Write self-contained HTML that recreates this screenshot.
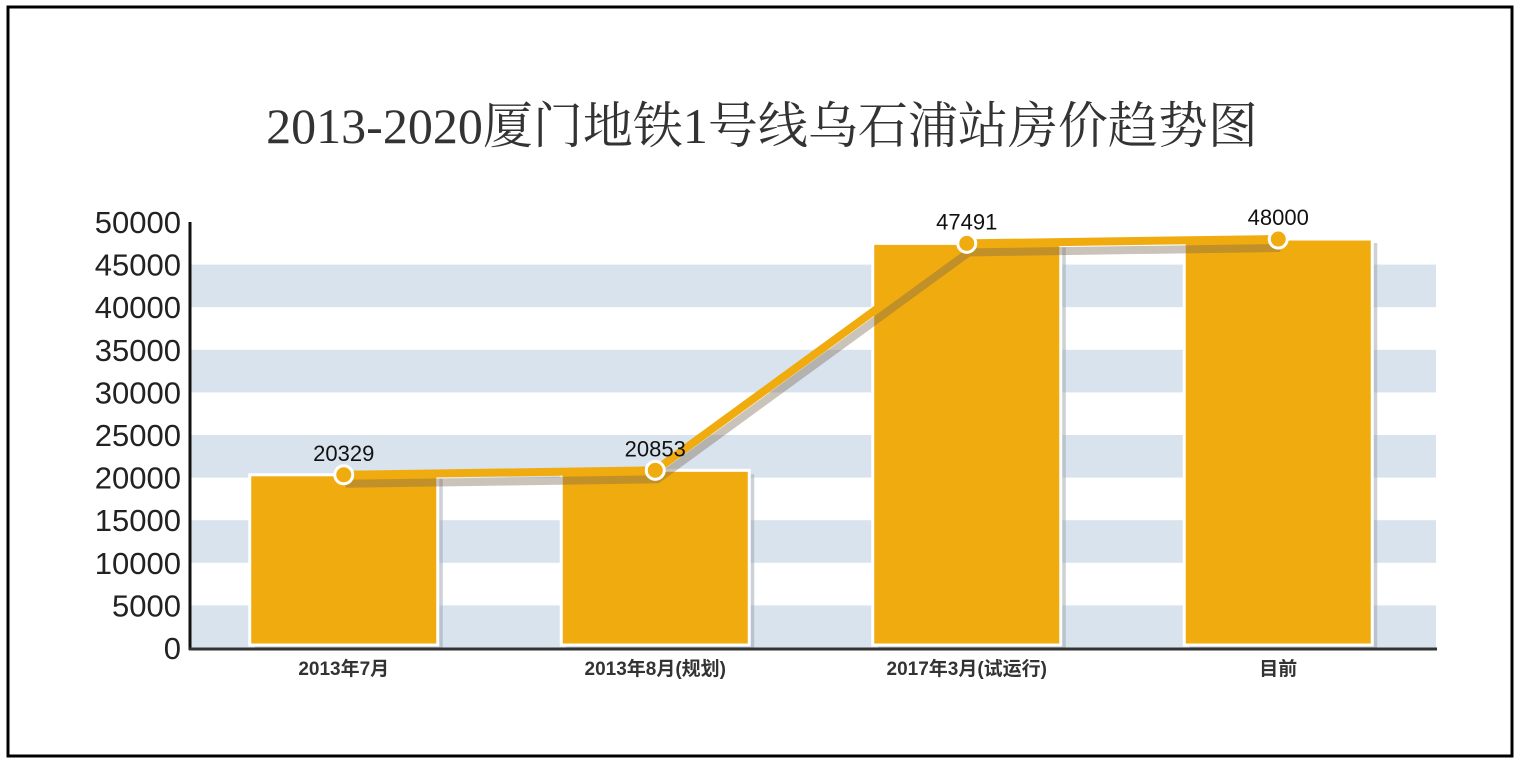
<!DOCTYPE html>
<html><head><meta charset="utf-8"><style>
body{margin:0;background:#fff;}
svg{display:block;font-family:"Liberation Sans","Noto Sans CJK SC",sans-serif;}
</style></head><body>
<svg id="chart" width="1521" height="764" viewBox="0 0 1521 764">
<rect x="8" y="7" width="1504" height="749" fill="#fff" stroke="#000" stroke-width="3"/>
<text x="762" y="143" text-anchor="middle" font-size="50" fill="#333" font-family="'Liberation Serif','Noto Serif CJK SC',serif">2013-2020厦门地铁1号线乌石浦站房价趋势图</text>
<g id="bands"></g><g id="yticks"></g><g id="bars"></g><g id="lines"></g><g id="xlabels"></g>
<line x1="190" y1="222" x2="190" y2="650" stroke="#111" stroke-width="3"/>
<line x1="189" y1="649" x2="1437" y2="649" stroke="#333" stroke-width="3"/>
</svg>
<script>
const categories=["2013年7月","2013年8月(规划)","2017年3月(试运行)","目前"];
const values=[20329,20853,47491,48000];
const yTicks=[0,5000,10000,15000,20000,25000,30000,35000,40000,45000,50000];
const NS="http://www.w3.org/2000/svg";
const y0=648,yTop=222,yMax=50000,xL=190,xR=1436;
const ys=v=>y0-(v/yMax)*(y0-yTop);
const band=(xR-xL)/categories.length;
const xc=i=>xL+band*(i+0.5)-2;
function mk(t,a,p){const e=document.createElementNS(NS,t);for(const k in a)e.setAttribute(k,a[k]);p.appendChild(e);return e;}
const bands=document.getElementById('bands');
for(let i=0;i<yTicks.length-1;i+=2){
  const r=mk('rect',{x:xL,y:ys(yTicks[i+1]),width:xR-xL,height:ys(yTicks[i])-ys(yTicks[i+1]),fill:'#d9e3ee'},bands);
  
  
}
const yt=document.getElementById('yticks');
yTicks.forEach(v=>{
  const t=mk('text',{x:181,y:ys(v)+11,'text-anchor':'end','font-size':31,fill:'#222'},yt);
  t.textContent=v;
  
  
});
const bars=document.getElementById('bars');
const bw=188;
values.forEach((v,i)=>{
  const x=xc(i)-bw/2;
  const s=mk('rect',{x:x+5,y:ys(v)+4,width:bw,height:y0-ys(v)-4,fill:'#9aa3ad',opacity:0.5},bars);
  
  
  const r=mk('rect',{x:x,y:ys(v),width:bw,height:y0-ys(v)-3,fill:'#f0ab0e',stroke:'#fff','stroke-width':3},bars);
  
  
});
const lg=document.getElementById('lines');
const pts=values.map((v,i)=>[xc(i),ys(v)]);
const sh=mk('polyline',{points:pts.map(p=>(p[0]+2)+','+(p[1]+9)).join(' '),fill:'none',stroke:'#7a6a50','stroke-width':8,opacity:0.4},lg);


const ln=mk('polyline',{points:pts.map(p=>p.join(',')).join(' '),fill:'none',stroke:'#f0ab0e','stroke-width':8},lg);


pts.forEach((p,i)=>{
  const c=mk('circle',{cx:p[0],cy:p[1],r:9,fill:'#f0ab0e',stroke:'#fff','stroke-width':3},lg);
  
  
  const t=mk('text',{x:p[0],y:p[1]-14,'text-anchor':'middle','font-size':22,fill:'#111'},lg);
  t.textContent=values[i];
  
  
});
const xl=document.getElementById('xlabels');
categories.forEach((c,i)=>{
  const t=mk('text',{x:xc(i),y:675,'text-anchor':'middle','font-size':19,'font-weight':'bold',fill:'#333'},xl);
  t.textContent=c;
  
  
});
</script>
</body></html>
